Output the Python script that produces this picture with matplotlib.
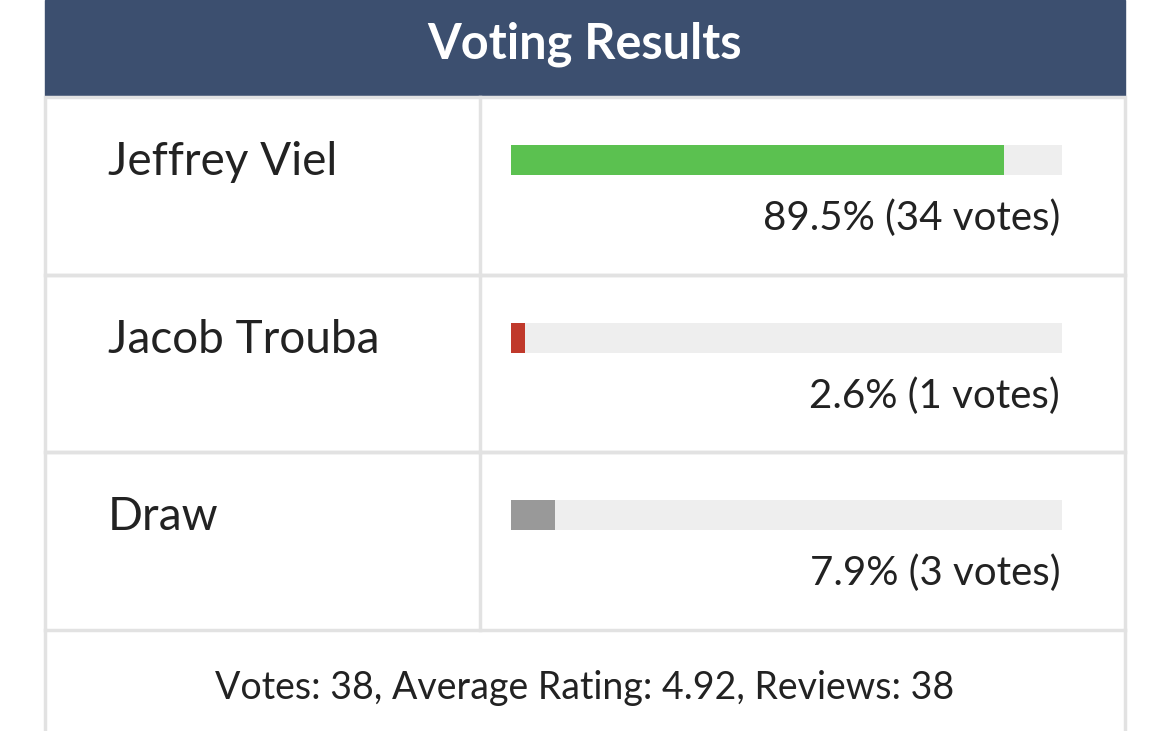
import matplotlib
matplotlib.use("Agg")
import matplotlib.pyplot as plt
from matplotlib.patches import Rectangle

title = "Voting Results"
names = ["Jeffrey Viel", "Jacob Trouba", "Draw"]
percents = [89.5, 2.6, 7.9]
votes = [34, 1, 3]
colors = ["#5bc150", "#c0392b", "#999999"]
footer = "Votes: 38, Average Rating: 4.92, Reviews: 38"

plt.rcParams['font.family'] = ['Lato', 'DejaVu Sans']
fig = plt.figure(figsize=(11.7, 7.31), dpi=100)
ax = fig.add_axes([0, 0, 1, 1])
ax.set_xlim(0, 1170); ax.set_ylim(731, 0); ax.axis('off')

L, R = 45, 1125
ax.add_patch(Rectangle((L, 0), R - L, 97, color="#3c4f6f", zorder=1))
ax.text(585, 44, title, color="white", fontsize=35, fontweight='bold', ha='center', va='center')

grid = "#e2e2e2"
row_h = 177.7
top = 97
for i, (n, p, v, c) in enumerate(zip(names, percents, votes, colors)):
    y0 = top + i * row_h
    ax.add_patch(Rectangle((L, y0), R - L, row_h, fill=False, ec=grid, lw=2.5))
    ax.plot([480, 480], [y0, y0 + row_h], color=grid, lw=2.5)
    ax.text(108, y0 + 65, n, fontsize=33, color="#222222", va='center', ha='left')
    by = y0 + 63
    ax.barh([by], [551], left=511, height=30, color="#eeeeee")
    ax.barh([by], [p / 100 * 551], left=511, height=30, color=c)
    ax.text(1060, y0 + 121, f"{p}% ({v} votes)", fontsize=29, color="#222222", ha='right', va='center')

fy = top + 3 * row_h
ax.plot([L, L], [fy, 731], color=grid, lw=2.5)
ax.plot([R, R], [fy, 731], color=grid, lw=2.5)
ax.text(585, 688, footer, fontsize=27, color="#222222", ha='center', va='center')

fig.savefig("out.png", dpi=100, facecolor="white")
